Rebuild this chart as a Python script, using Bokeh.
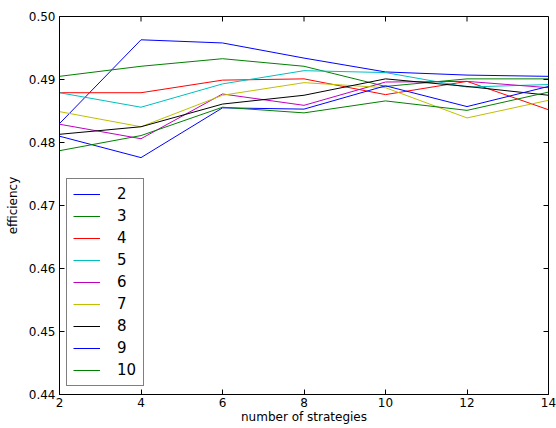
import math
from bokeh.plotting import figure
from bokeh.models import Legend, LegendItem, FixedTicker, Range1d
from bokeh.embed import file_html
from bokeh.resources import INLINE

x = [2, 4, 6, 8, 10, 12, 14]
labels = ["2", "3", "4", "5", "6", "7", "8", "9", "10"]
colors = ["#0000ff", "#008000", "#ff0000", "#00bfbf", "#bf00bf", "#bfbf00", "#000000", "#0000ff", "#008000"]
s2 = [0.4830, 0.4963, 0.4958, 0.4934, 0.4912, 0.4907, 0.4905]
s3 = [0.4905, 0.4921, 0.4933, 0.4921, 0.4889, 0.4901, 0.4901]
s4 = [0.4879, 0.4879, 0.4899, 0.4901, 0.4876, 0.4897, 0.4852]
s5 = [0.4879, 0.4856, 0.4893, 0.4914, 0.4911, 0.4888, 0.4892]
s6 = [0.4829, 0.4806, 0.4877, 0.4859, 0.4896, 0.4897, 0.4887]
s7 = [0.4849, 0.4825, 0.4875, 0.4895, 0.4887, 0.4839, 0.4867]
s8 = [0.4813, 0.4825, 0.4861, 0.4875, 0.4901, 0.4889, 0.4875]
s9 = [0.4810, 0.4776, 0.4855, 0.4853, 0.4890, 0.4857, 0.4889]
s10 = [0.4787, 0.4811, 0.4856, 0.4847, 0.4866, 0.4851, 0.4880]
series = [s2, s3, s4, s5, s6, s7, s8, s9, s10]
xticks = [2, 4, 6, 8, 10, 12, 14]
yticks = [0.44, 0.45, 0.46, 0.47, 0.48, 0.49, 0.50]
xmin, xmax = 2, 14
ymin, ymax = 0.44, 0.50

FONT = "DejaVu Sans"

p = figure(width=556, height=428, output_backend="svg", toolbar_location=None,
           x_range=Range1d(xmin, xmax), y_range=Range1d(ymin, ymax),
           min_border_left=59, min_border_right=8, min_border_top=16, min_border_bottom=34,
           x_axis_label="number of strategies", y_axis_label="efficiency")
p.grid.visible = False
p.outline_line_color = "black"
p.outline_line_width = 1
p.background_fill_color = "white"
p.border_fill_color = "white"

items = []
for lab, col, ys in zip(labels, colors, series):
    r = p.line(x, ys, line_color=col, line_width=1)
    items.append(LegendItem(label=lab, renderers=[r]))

p.xaxis.ticker = FixedTicker(ticks=xticks)
p.yaxis.ticker = FixedTicker(ticks=yticks)
p.xaxis.major_label_overrides = {t: str(t) for t in xticks}
p.yaxis.major_label_overrides = {t: "%.2f" % t for t in yticks}
for ax in p.xaxis + p.yaxis:
    ax.major_tick_in = 5
    ax.major_tick_out = 0
    ax.minor_tick_in = 0
    ax.minor_tick_out = 0
    ax.axis_line_color = "black"
    ax.major_tick_line_color = "black"
    ax.major_label_text_font = FONT
    ax.major_label_text_font_size = "12px"
    ax.major_label_text_color = "black"
    ax.axis_label_text_font = FONT
    ax.axis_label_text_font_style = "normal"
    ax.axis_label_text_font_size = "12px"
    ax.axis_label_text_color = "black"
p.xaxis.major_label_standoff = 3
p.yaxis.major_label_standoff = 4
p.xaxis.axis_label_standoff = 0
p.yaxis.axis_label_standoff = 6

# ticks on top and right edges (inward)
p.ray(x=xticks, y=[ymax] * len(xticks), length=5, length_units="screen",
      angle=-math.pi / 2, line_color="black", line_width=1)
p.ray(x=[xmax] * len(yticks), y=yticks, length=5, length_units="screen",
      angle=math.pi, line_color="black", line_width=1)

leg = Legend(items=items, location=(7, 8))
leg.label_text_font = FONT
leg.label_text_font_size = "15px"
leg.label_text_color = "black"
leg.glyph_width = 27
leg.glyph_height = 18
leg.label_height = 18
leg.label_standoff = 17
leg.spacing = 4
leg.padding = 6
leg.margin = 0
leg.border_line_color = "black"
leg.border_line_width = 1
leg.background_fill_alpha = 1
p.add_layout(leg, "center")

open("out.html", "w").write(file_html(p, INLINE))
